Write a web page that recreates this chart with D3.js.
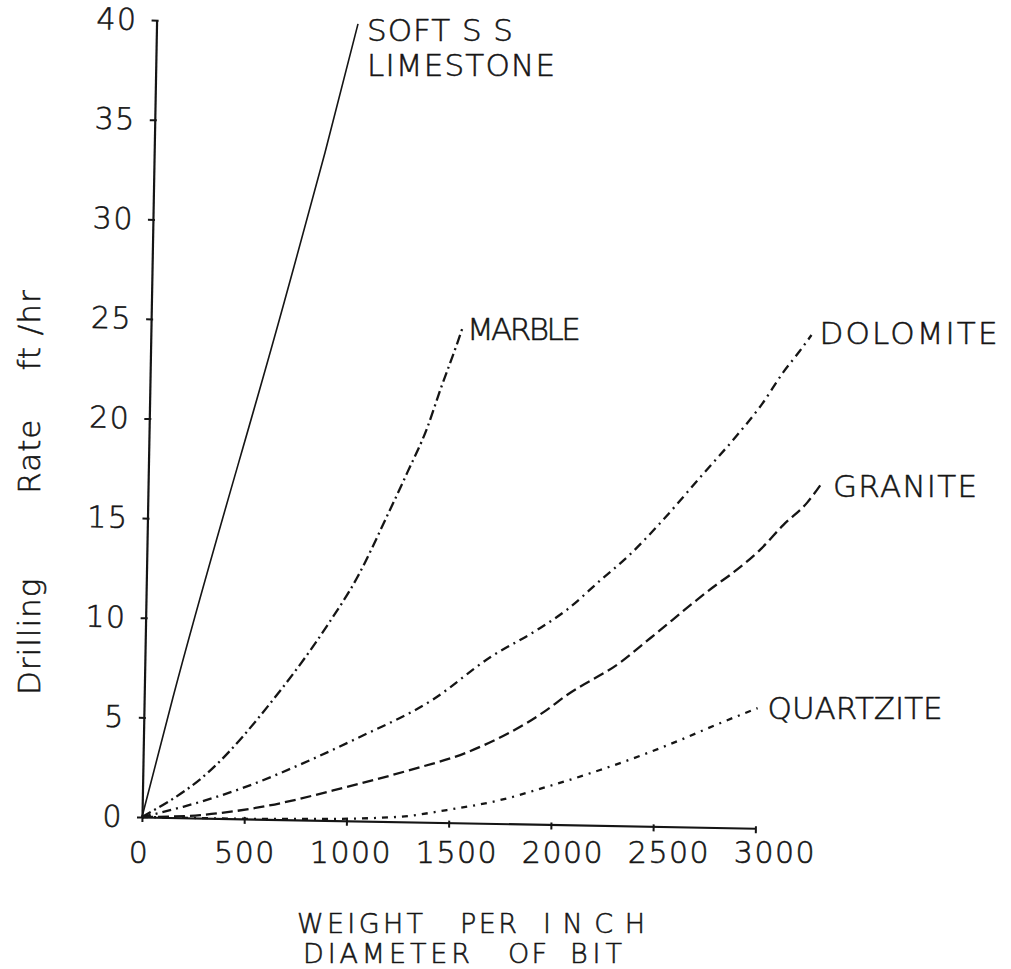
<!DOCTYPE html>
<html>
<head>
<meta charset="utf-8">
<script src="https://cdn.jsdelivr.net/npm/d3@7"></script>
<style>
  html, body { margin: 0; padding: 0; background: #ffffff; }
  svg { display: block; }
  text { font-family: "DejaVu Sans", "Liberation Sans", sans-serif; fill: #151515;
         stroke: #151515; stroke-width: 0.55px; font-weight: 200; }
</style>
</head>
<body>
<svg id="chart" width="1011" height="969"></svg>
<script>
// ---------- data ----------
const xTicks = [0, 500, 1000, 1500, 2000, 2500, 3000];
const yTicks = [0, 5, 10, 15, 20, 25, 30, 35, 40];

const seriesNames = ["SOFT S S", "MARBLE", "DOLOMITE", "GRANITE", "QUARTZITE"];
const softSubLabel = "LIMESTONE";
const yTitleWords = ["Drilling", "Rate", "ft /hr"];
const xTitleLine1 = ["WEIGHT", "PER", "INCH"];
const xTitleLine2 = ["DIAMETER", "OF", "BIT"];

const softSS = [[0, 0], [140, 6], [650, 26], [835, 33.5], [985, 40]];
const marble = [[0, 0], [330, 2.4], [630, 6], [890, 9.8], [1030, 12.2], [1170, 15.3],
                [1265, 17.5], [1360, 19.8], [1420, 21.7], [1500, 24.1], [1525, 24.9]];
const dolomite = [[0, 0], [200, 0.55], [490, 1.55], [815, 3], [1045, 4.15], [1410, 6.15],
                  [1690, 8.35], [1915, 9.75], [2060, 10.8], [2220, 12.3], [2360, 13.6],
                  [2505, 15.2], [2710, 17.7], [2875, 19.7], [2995, 21.3], [3095, 22.9],
                  [3175, 24], [3230, 24.8]];
const granite = [[0, 0], [285, 0.15], [575, 0.6], [1000, 1.7], [1305, 2.6], [1585, 3.55],
                 [1970, 5.75], [2065, 6.5], [2325, 8.2], [2470, 9.45], [2790, 12.2],
                 [2855, 12.7], [3000, 14], [3110, 15.25], [3225, 16.4], [3295, 17.4]];
const quartzite = [[0, 0], [330, 0], [800, 0.05], [1260, 0.25], [1490, 0.63], [1750, 1.18],
                   [1975, 1.88], [2235, 2.78], [2465, 3.67], [2625, 4.36], [2820, 5.25],
                   [3000, 6.03]];

const seriesValues = [softSS, marble, dolomite, granite, quartzite];

// ---------- styles / layout ----------
const dashes = ["none", "10,4,2,4", "9,5,2,5", "11,5", "6,6,2,6"];
const labelWidths = [146, 114, 178, 144, 175];
const labelDx = [9, 4, 8, 11, 10];
const labelDy = [17, 13, 9, 14, 11];
const ink = "#151515";
const xTitle1X = [297, 460, 543], xTitle1W = [126, 57, 102];
const xTitle2X = [303, 508, 570], xTitle2W = [167, 39, 52];

const svg = d3.select("#chart");
const origin = { x: 142, y: 817 };
const tilt = 1.05; // the scanned drawing is slightly rotated
const rad = tilt * Math.PI / 180;
const toScreen = (px, py) => [origin.x + px * Math.cos(rad) - py * Math.sin(rad),
                              origin.y + px * Math.sin(rad) + py * Math.cos(rad)];

const x = d3.scaleLinear().domain([0, 3000]).range([0, 613.5]);
const y = d3.scaleLinear().domain([0, 40]).range([0, -797]);

const plot = svg.append("g")
  .attr("transform", `translate(${origin.x},${origin.y}) rotate(${tilt})`);

// Y axis
const yAxis = plot.append("g")
  .call(d3.axisLeft(y).tickValues(yTicks).tickSize(5).tickSizeOuter(0).tickPadding(14));
yAxis.select(".domain").attr("stroke", ink).attr("stroke-width", 2.2);
yAxis.selectAll(".tick line").attr("stroke", ink).attr("stroke-width", 2).attr("x2", -5).attr("x1", 2);
yAxis.selectAll(".tick text")
  .attr("font-size", 30)
  .attr("letter-spacing", 1.5)
  .style("font-family", '"DejaVu Sans", sans-serif')
  .attr("fill", ink);

// X axis
const xAxis = plot.append("g")
  .call(d3.axisBottom(x).tickValues(xTicks).tickSize(5).tickSizeOuter(0).tickFormat(""));
xAxis.select(".domain").attr("stroke", ink).attr("stroke-width", 2.2);
xAxis.selectAll(".tick line").attr("stroke", ink).attr("stroke-width", 2).attr("y1", -2);

// X tick labels (hand lettering drifts slightly from the ticks)
const xLabel = d3.scaleLinear().domain([0, 3000]).range([139, 775]);
svg.append("g").selectAll("text")
  .data(xTicks).join("text")
  .attr("x", d => xLabel(d))
  .attr("y", 863)
  .attr("text-anchor", "middle")
  .attr("font-size", 30)
  .attr("letter-spacing", 1.5)
  .text(d => d);

// curves
const line = d3.line()
  .x(d => x(d[0]))
  .y(d => y(d[1]))
  .curve(d3.curveMonotoneX);

plot.append("g").selectAll("path")
  .data(seriesValues).join("path")
  .attr("d", d => line(d))
  .attr("fill", "none")
  .attr("stroke", ink)
  .attr("stroke-width", (d, i) => i === 0 ? 1.6 : 2.3)
  .attr("stroke-dasharray", (d, i) => dashes[i])
  .attr("stroke-linecap", "butt");

// curve labels (placed in screen space next to each curve's end)
const labels = svg.append("g");
seriesValues.forEach((vals, i) => {
  const end = vals[vals.length - 1];
  const [sx, sy] = toScreen(x(end[0]), y(end[1]));
  const lx = sx + labelDx[i];
  const ly = sy + labelDy[i];
  labels.append("text")
    .attr("x", lx).attr("y", ly)
    .attr("font-size", 31)
    .attr("textLength", labelWidths[i])
    .attr("lengthAdjust", "spacing")
    .text(seriesNames[i]);
  if (i === 0) {
    labels.append("text")
      .attr("x", lx).attr("y", ly + 35)
      .attr("font-size", 31)
      .attr("textLength", 188)
      .attr("lengthAdjust", "spacing")
      .text(softSubLabel);
  }
});

// axis titles
const yTitle = svg.append("text")
  .attr("transform", "translate(40,695) rotate(-90)")
  .attr("font-size", 31)
  .attr("letter-spacing", 1);
yTitle.append("tspan").text(yTitleWords[0]);
yTitle.append("tspan").attr("dx", 84).text(yTitleWords[1]);
yTitle.append("tspan").attr("dx", 48).text(yTitleWords[2]);

const xt = svg.append("g");
xTitleLine1.forEach((w, i) => {
  xt.append("text").attr("x", xTitle1X[i]).attr("y", 933)
    .attr("font-size", 27)
    .attr("textLength", xTitle1W[i]).attr("lengthAdjust", "spacing")
    .text(w);
});
xTitleLine2.forEach((w, i) => {
  xt.append("text").attr("x", xTitle2X[i]).attr("y", 963)
    .attr("font-size", 27)
    .attr("textLength", xTitle2W[i]).attr("lengthAdjust", "spacing")
    .text(w);
});
</script>
</body>
</html>
